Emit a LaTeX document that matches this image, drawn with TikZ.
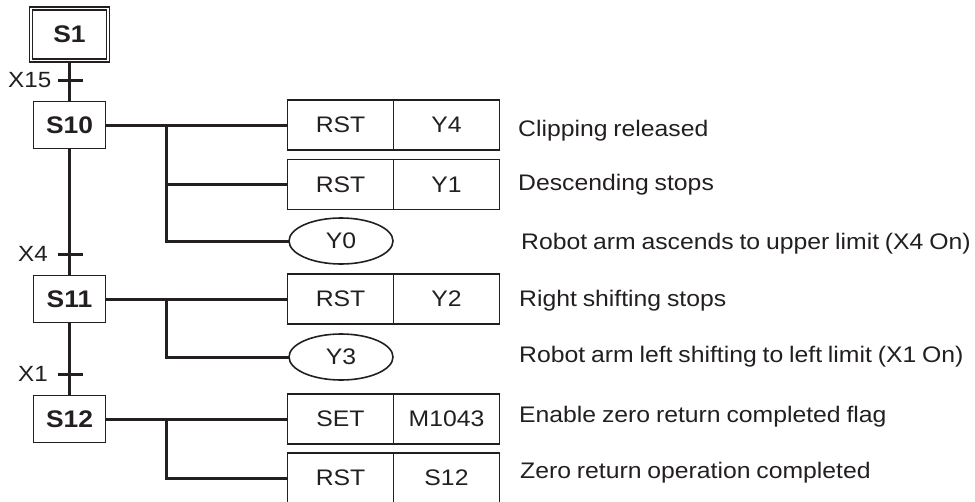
\documentclass[tikz,border=0pt]{standalone}
\usepackage{fontspec}
\setmainfont[FakeStretch=1.1, WordSpace=0.85]{Liberation Sans}
\usetikzlibrary{positioning, shapes.geometric}
\definecolor{ink}{RGB}{35,31,32}

\begin{document}
\begin{tikzpicture}[x=1pt, y=-1pt, color=ink,
  stepbox/.style={draw, line width=1.6pt, minimum width=72pt, minimum height=47pt,
    inner sep=0pt, outer sep=0pt, font=\fontsize{24}{28}\selectfont\bfseries},
  cmdbox/.style={draw, line width=1.6pt, minimum width=106pt, minimum height=50pt,
    inner sep=0pt, outer sep=0pt, font=\fontsize{22.5}{26}\selectfont},
  coil/.style={ellipse, draw, line width=1.6pt, minimum width=104pt, minimum height=46pt,
    inner sep=0pt, outer sep=0pt, font=\fontsize{22.5}{26}\selectfont},
  note/.style={anchor=base west, inner sep=0pt, font=\fontsize{22.5}{26}\selectfont},
  cond/.style={anchor=west, inner sep=0pt, font=\fontsize{22}{26}\selectfont},
  wire/.style={line width=3pt},
  transbar/.style={line width=3pt}]
  \useasboundingbox (0,0) rectangle (975,501);

  % Steps
  \node[stepbox, minimum width=77pt, minimum height=52pt, line width=1.3pt,
    double, double distance=1.6pt, outer sep=2.1pt] (s1) at (69.5,34.5) {S1};
  \node[stepbox] (s10) at (69.5,125) {S10};
  \node[stepbox] (s11) at (69.5,299) {S11};
  \node[stepbox] (s12) at (69.5,419) {S12};

  % Step line
  \draw[wire] (s1) -- (s10);
  \draw[wire] (s10) -- (s11);
  \draw[wire] (s11) -- (s12);

  % Transitions
  \coordinate (t15) at (69.5,80);
  \coordinate (t4) at (69.5,254);
  \coordinate (t1) at (69.5,374);
  \draw[transbar] ([xshift=-11.5pt]t15) -- ([xshift=13.5pt]t15);
  \draw[transbar] ([xshift=-11.5pt]t4) -- ([xshift=13.5pt]t4);
  \draw[transbar] ([xshift=-11.5pt]t1) -- ([xshift=13.5pt]t1);
  \node[cond] (x15) at (8,80) {X15};
  \node[cond] (x4) at (18,254) {X4};
  \node[cond] (x1) at (18,374) {X1};

  % Outputs of S10
  \node[cmdbox] (r1a) at (340.5,125) {RST};
  \node[cmdbox, right=0pt of r1a] (r1b) {Y4};
  \node[cmdbox] (r2a) at (340.5,184.5) {RST};
  \node[cmdbox, right=0pt of r2a] (r2b) {Y1};
  \node[coil] (o0) at (341,241) {Y0};
  \coordinate (j10) at (166,125);
  \draw[wire] (s10) -- (r1a);
  \draw[wire] (j10) |- (r2a);
  \draw[wire] (j10) |- (o0);

  % Outputs of S11
  \node[cmdbox] (r4a) at (340.5,299) {RST};
  \node[cmdbox, right=0pt of r4a] (r4b) {Y2};
  \node[coil] (o3) at (341,357) {Y3};
  \coordinate (j11) at (166,299);
  \draw[wire] (s11) -- (r4a);
  \draw[wire] (j11) |- (o3);

  % Outputs of S12
  \node[cmdbox] (r6a) at (340.5,419) {SET};
  \node[cmdbox, right=0pt of r6a] (r6b) {M1043};
  \node[cmdbox] (r7a) at (340.5,478) {RST};
  \node[cmdbox, right=0pt of r7a] (r7b) {S12};
  \coordinate (j12) at (166,419);
  \draw[wire] (s12) -- (r6a);
  \draw[wire] (j12) |- (r7a);

  % Comments
  \node[note] (n1) at (518,136) {Clipping released};
  \node[note] (n2) at (518,190) {Descending stops};
  \node[note] (n3) at (521,249) {Robot arm ascends to upper limit (X4 On)};
  \node[note] (n4) at (519,306) {Right shifting stops};
  \node[note] (n5) at (519,362) {Robot arm left shifting to left limit (X1 On)};
  \node[note] (n6) at (519,422) {Enable zero return completed flag};
  \node[note] (n7) at (520,478) {Zero return operation completed};
\end{tikzpicture}
\end{document}
